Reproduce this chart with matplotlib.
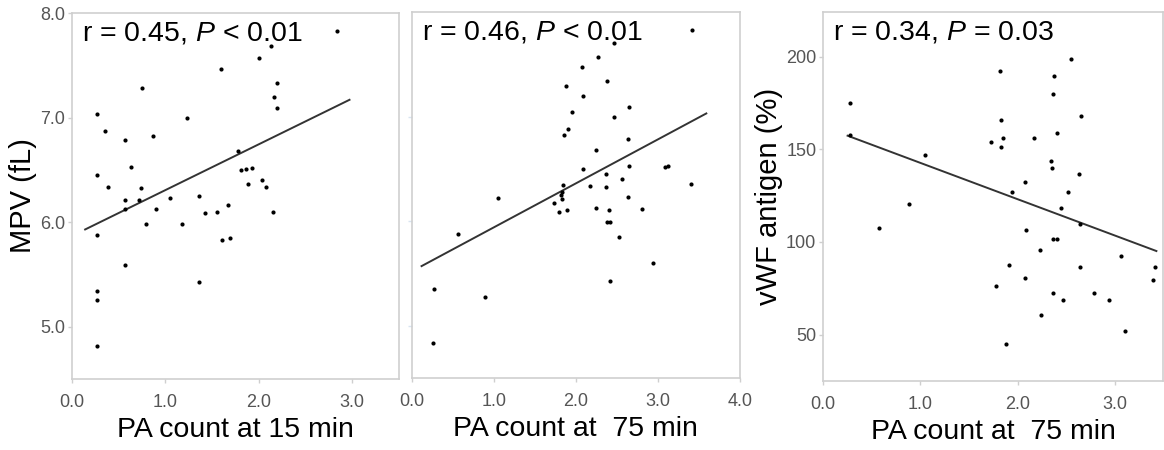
import matplotlib
matplotlib.use("Agg")
import matplotlib.pyplot as plt

plt.rcParams['font.family'] = ['Liberation Sans', 'DejaVu Sans']
plt.rcParams['mathtext.fontset'] = 'custom'
plt.rcParams['mathtext.rm'] = 'Liberation Sans'
plt.rcParams['mathtext.it'] = 'Liberation Sans:italic'

# panel 1: MPV vs PA count at 15 min
pa15 = [2.84, 2.00, 1.59, 2.13, 2.19, 2.16, 2.19, 0.75, 0.27, 1.23, 0.35, 0.57, 0.87,
        1.78, 0.63, 0.27, 1.81, 1.86, 1.93, 0.39, 0.74, 1.88, 2.03, 2.08, 0.57, 0.57,
        0.72, 1.05, 1.36, 0.90, 1.42, 1.55, 1.67, 2.15, 0.79, 1.18, 0.27, 1.61, 1.69,
        0.57, 1.36, 0.27, 0.27, 0.27]
mpv15 = [7.83, 7.57, 7.46, 7.68, 7.33, 7.20, 7.09, 7.28, 7.03, 7.00, 6.87, 6.79, 6.82,
         6.68, 6.53, 6.45, 6.50, 6.51, 6.52, 6.34, 6.33, 6.36, 6.40, 6.34, 6.21, 6.13,
         6.21, 6.23, 6.25, 6.13, 6.09, 6.10, 6.16, 6.10, 5.98, 5.98, 5.88, 5.83, 5.85,
         5.59, 5.43, 5.34, 5.26, 4.82]
fit15_x = [0.14, 2.97]
fit15_y = [5.93, 7.17]

# panel 2: MPV vs PA count at 75 min
pa75 = [3.42, 2.47, 2.27, 2.08, 2.38, 1.88, 2.09, 1.95, 2.65, 2.47, 1.90, 1.85, 2.63,
        2.24, 2.09, 2.65, 3.09, 3.12, 2.37, 2.56, 3.40, 1.84, 2.17, 2.37, 1.83, 1.82,
        1.83, 1.05, 2.64, 1.74, 2.24, 2.81, 1.79, 1.89, 2.40, 2.38, 2.42, 0.57, 2.52,
        2.94, 0.27, 0.89, 2.42, 0.26]
mpv75 = [7.83, 7.70, 7.57, 7.47, 7.34, 7.29, 7.20, 7.04, 7.09, 7.00, 6.88, 6.82, 6.79,
         6.68, 6.50, 6.53, 6.52, 6.53, 6.45, 6.40, 6.36, 6.35, 6.34, 6.33, 6.28, 6.25,
         6.21, 6.22, 6.23, 6.17, 6.13, 6.12, 6.09, 6.11, 6.11, 5.99, 5.99, 5.88, 5.85,
         5.60, 5.35, 5.27, 5.43, 4.83]
fit75_x = [0.12, 3.59]
fit75_y = [5.57, 7.03]

# panel 3: vWF antigen vs PA count at 75 min
pa75_v = [2.55, 1.82, 2.38, 2.37, 0.27, 2.65, 1.83, 2.41, 0.27, 1.85, 2.17, 1.73, 1.83,
          1.05, 2.34, 2.36, 2.63, 2.08, 1.94, 2.52, 0.88, 2.45, 2.64, 0.57, 2.09, 2.37,
          2.41, 2.23, 3.07, 1.91, 2.64, 3.42, 2.08, 3.39, 1.78, 2.37, 2.79, 2.47, 2.94,
          2.24, 3.11, 1.88]
vwf = [198.7, 192.3, 189.6, 179.6, 175.0, 168.0, 165.9, 158.9, 157.5, 156.2, 156.2, 154.1,
       151.4, 147.1, 143.5, 140.1, 136.4, 132.1, 127.2, 127.2, 120.3, 118.3, 109.5, 107.4,
       106.3, 101.5, 101.5, 95.6, 92.4, 87.6, 86.7, 86.7, 80.6, 79.5, 76.5, 72.7, 72.7,
       68.8, 68.8, 60.7, 51.8, 44.7]
fitv_x = [0.25, 3.43]
fitv_y = [157.3, 95.1]

fig = plt.figure(figsize=(11.64, 4.5), dpi=100)
ax1 = fig.add_axes([0.0619, 0.1578, 0.2809, 0.8133])
ax2 = fig.add_axes([0.3537, 0.1600, 0.2820, 0.8133])
ax3 = fig.add_axes([0.7073, 0.1533, 0.2920, 0.8200])

def style(ax, xlim, ylim, xticks, yticks, ylabels=True):
    ax.set_xlim(*xlim)
    ax.set_ylim(*ylim)
    ax.set_xticks(xticks)
    ax.set_xticklabels([f"{t:.1f}" for t in xticks])
    ax.set_yticks(yticks)
    for s in ax.spines.values():
        s.set_color('#cfcfcf')
        s.set_linewidth(1.2)
    ax.tick_params(colors='#cfcfcf', labelcolor='#555555', labelsize=13,
                   length=3, width=1)
    ax.tick_params(axis='x', pad=8)
    ax.tick_params(axis='y', pad=2)
    if not ylabels:
        ax.tick_params(axis='y', labelleft=False, colors='#d8e4f0')

def panel(ax, x, y, fx, fy, label):
    ax.scatter(x, y, s=9, color='black', zorder=3, linewidths=0)
    ax.plot(fx, fy, color='#333333', lw=1.4, zorder=2)
    ax.text(0.03, 0.945, label, transform=ax.transAxes, fontsize=20.5,
            va='center', ha='left')

panel(ax1, pa15, mpv15, fit15_x, fit15_y, r'r = 0.45, $\mathit{P}$ < 0.01')
style(ax1, (0, 3.5), (4.5, 8.0), [0.0, 1.0, 2.0, 3.0], [5.0, 6.0, 7.0, 8.0])
ax1.set_yticklabels(['5.0', '6.0', '7.0', '8.0'])
ax1.set_xlabel('PA count at 15 min', fontsize=20.5, labelpad=4)
ax1.set_ylabel('MPV (fL)', fontsize=21, labelpad=2)

panel(ax2, pa75, mpv75, fit75_x, fit75_y, r'r = 0.46, $\mathit{P}$ < 0.01')
style(ax2, (0, 4.0), (4.5, 8.0), [0.0, 1.0, 2.0, 3.0, 4.0], [5.0, 6.0, 7.0],
      ylabels=False)
ax2.set_xlabel('PA count at  75 min', fontsize=20.5, labelpad=4)

panel(ax3, pa75_v, vwf, fitv_x, fitv_y, r'r = 0.34, $\mathit{P}$ = 0.03')
style(ax3, (0, 3.5), (25, 224), [0.0, 1.0, 2.0, 3.0], [50, 100, 150, 200])
ax3.set_xlabel('PA count at  75 min', fontsize=20.5, labelpad=4)
ax3.set_ylabel('vWF antigen (%)', fontsize=21, labelpad=2)

fig.savefig('out.png', dpi=100)
